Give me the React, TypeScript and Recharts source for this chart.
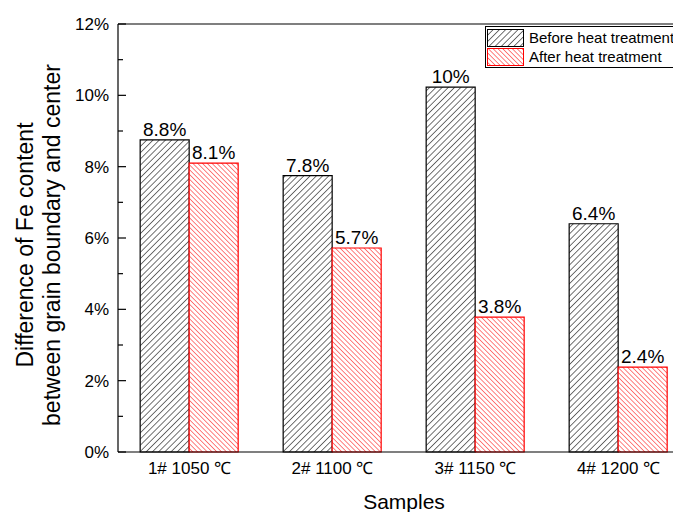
import { BarChart, Bar, XAxis, YAxis, LabelList, ReferenceLine, Label } from 'recharts'

const samples = ['1# 1050 ℃', '2# 1100 ℃', '3# 1150 ℃', '4# 1200 ℃']
const beforeValues = [8.75, 7.75, 10.23, 6.4]
const afterValues = [8.1, 5.72, 3.78, 2.38]
const beforeLabels = ['8.8%', '7.8%', '10%', '6.4%']
const afterLabels = ['8.1%', '5.7%', '3.8%', '2.4%']
const yTicks = [0, 1, 2, 3, 4, 5, 6, 7, 8, 9, 10, 11, 12]
const seriesNames = ['Before heat treatment', 'After heat treatment']

const data = samples.map((name, i) => ({
  name,
  before: beforeValues[i],
  after: afterValues[i],
  beforeLabel: beforeLabels[i],
  afterLabel: afterLabels[i],
}))

const FONT = 'Arial, "Liberation Sans", sans-serif'

function Hatches({ prefix }: { prefix: string }) {
  return (
    <defs>
      <pattern id={`${prefix}-black`} patternUnits="userSpaceOnUse" width={4.4} height={4.4} patternTransform="rotate(45)">
        <rect width={4.4} height={4.4} fill="#fff" />
        <line x1={0} y1={0} x2={0} y2={4.4} stroke="#000" strokeWidth={1.1} />
      </pattern>
      <pattern id={`${prefix}-red`} patternUnits="userSpaceOnUse" width={3.4} height={3.4} patternTransform="rotate(-45)">
        <rect width={3.4} height={3.4} fill="#fff" />
        <line x1={0} y1={0} x2={0} y2={3.4} stroke="#ff0000" strokeWidth={1} />
      </pattern>
    </defs>
  )
}

function YTick(props: any) {
  const { x, y, payload } = props
  const v = payload.value as number
  const major = v % 2 === 0
  return (
    <g>
      <line x1={x} y1={y} x2={x + (major ? 8 : 5)} y2={y} stroke="#000" strokeWidth={1.2} />
      {major && (
        <text x={x - 9} y={y} dy="0.35em" textAnchor="end" fontSize={17} fontFamily={FONT} fill="#000">
          {`${v}%`}
        </text>
      )}
    </g>
  )
}

function YTitle(props: any) {
  const { viewBox } = props
  const cy = viewBox.y + viewBox.height / 2 + 7
  const x1 = 25
  const x2 = 52
  return (
    <g fontSize={23} fontFamily={FONT} fill="#000">
      <text x={x1} y={cy} textAnchor="middle" dominantBaseline="central" transform={`rotate(-90 ${x1} ${cy})`}>
        Difference of Fe content
      </text>
      <text x={x2} y={cy} textAnchor="middle" dominantBaseline="central" transform={`rotate(-90 ${x2} ${cy})`}>
        between grain boundary and center
      </text>
    </g>
  )
}

function XTitle(props: any) {
  const { viewBox } = props
  return (
    <text
      x={viewBox.x + viewBox.width / 2}
      y={viewBox.y + 57}
      textAnchor="middle"
      fontSize={21}
      fontFamily={FONT}
      fill="#000"
    >
      Samples
    </text>
  )
}

function LegendBox() {
  return (
    <div
      style={{
        position: 'absolute',
        left: 485,
        top: 26,
        width: 260,
        border: '1px solid #000',
        background: '#fff',
        padding: 1,
        fontFamily: FONT,
        fontSize: 15,
        lineHeight: '19px',
      }}
    >
      {seriesNames.map((name, i) => (
        <div key={name} style={{ display: 'flex', alignItems: 'center', height: 19 }}>
          <svg width={37} height={18} style={{ marginRight: 5, flexShrink: 0 }}>
            <Hatches prefix={`lg${i}`} />
            <rect x={0.5} y={0.5} width={36} height={17} fill={`url(#lg${i}-${i === 0 ? 'black' : 'red'})`} stroke={i === 0 ? '#000' : '#ff0000'} />
          </svg>
          <span style={{ whiteSpace: 'nowrap' }}>{name}</span>
        </div>
      ))}
    </div>
  )
}

export default function App() {
  return (
    <div style={{ width: 673, height: 504, overflow: 'hidden' }}>
      <div style={{ marginLeft: -8, marginTop: -8, width: 681, height: 512, position: 'relative', background: '#fff' }}>
        <BarChart
          width={720}
          height={512}
          data={data}
          margin={{ top: 24, right: 30, bottom: 0, left: 0 }}
          barCategoryGap="15.5%"
          barGap={0}
        >
          <Hatches prefix="bar" />
          <XAxis
            dataKey="name"
            height={60}
            tickLine={false}
            tickSize={0}
            tickMargin={10}
            axisLine={{ stroke: '#000', strokeWidth: 1.2 }}
            tick={{ fontSize: 17, fontFamily: FONT, fill: '#000' }}
          >
            <Label content={<XTitle />} />
          </XAxis>
          <YAxis
            width={118}
            domain={[0, 12]}
            ticks={yTicks}
            interval={0}
            tickLine={false}
            tickSize={0}
            tickMargin={0}
            axisLine={{ stroke: '#000', strokeWidth: 1.2 }}
            tick={<YTick />}
          >
            <Label content={<YTitle />} />
          </YAxis>
          <ReferenceLine y={12} stroke="#000" strokeWidth={1.2} />
          <Bar dataKey="before" fill="url(#bar-black)" stroke="#000" strokeWidth={1.2} isAnimationActive={false}>
            <LabelList dataKey="beforeLabel" position="top" offset={4} style={{ fontSize: 19, fontFamily: FONT, fill: '#000' }} />
          </Bar>
          <Bar dataKey="after" fill="url(#bar-red)" stroke="#ff0000" strokeWidth={1.2} isAnimationActive={false}>
            <LabelList dataKey="afterLabel" position="top" offset={4} style={{ fontSize: 19, fontFamily: FONT, fill: '#000' }} />
          </Bar>
        </BarChart>
        <LegendBox />
      </div>
    </div>
  )
}
